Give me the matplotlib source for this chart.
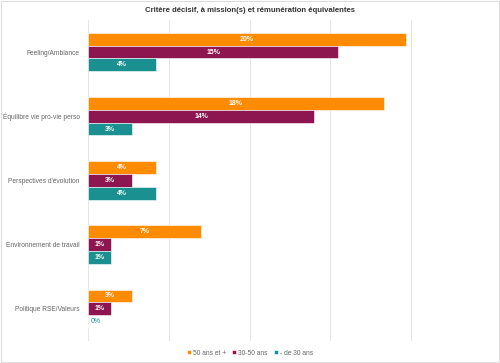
import matplotlib.pyplot as plt
import numpy as np
from matplotlib.patches import Rectangle

plt.rcParams['font.family'] = ['Liberation Sans', 'DejaVu Sans']

categories = ["Feeling/Ambiance", "Équilibre vie pro-vie perso", "Perspectives d'évolution",
              "Environnement de travail", "Politique RSE/Valeurs"]
series_names = ["50 ans et +", "30-50 ans", "- de 30 ans"]
v_50plus = [19.7, 18.3, 4.2, 7.0, 2.7]
v_30_50 = [15.5, 14.0, 2.7, 1.4, 1.4]
v_moins30 = [4.2, 2.7, 4.2, 1.4, 0.0]
labels_50plus = ["20%", "18%", "4%", "7%", "3%"]
labels_30_50 = ["15%", "14%", "3%", "1%", "1%"]
labels_moins30 = ["4%", "3%", "4%", "1%", "0%"]
colors = ["#FF8C00", "#8E1650", "#1A9090"]

fig = plt.figure(figsize=(5.0, 3.63), dpi=100)
fig.patches.append(Rectangle((0.002, 0.002), 0.996, 0.996, transform=fig.transFigure,
                             fill=False, edgecolor="#dddddd", linewidth=0.8))
ax = fig.add_axes([0.176, 0.061, 0.808, 0.884])

y = np.arange(len(categories))
h = 0.2
series = [v_50plus, v_30_50, v_moins30]
labs = [labels_50plus, labels_30_50, labels_moins30]
for i, (vals, lab, col) in enumerate(zip(series, labs, colors)):
    pos = y + (i - 1) * h
    ax.barh(pos, vals, height=h, color=col, edgecolor="white", linewidth=0.4,
            label=series_names[i], zorder=3)
    for p, v, t in zip(pos, vals, lab):
        if v > 0.5:
            ax.text(v / 2, p, t, ha="center", va="center", color="white",
                    fontsize=5, fontweight="bold", zorder=4)
        else:
            ax.text(0.15, p, t, ha="left", va="center", color=col,
                    fontsize=5, zorder=4)

ax.set_xlim(0, 25)
ax.set_ylim(len(categories) - 0.5, -0.5)
ax.set_xticks([0, 5, 10, 15, 20, 25])
ax.xaxis.grid(True, color="#e6e6e6", linewidth=0.7, zorder=0)
ax.tick_params(axis="x", length=0, labelbottom=False)
ax.set_yticks(y)
ax.set_yticklabels(categories, fontsize=4.8, color="#666666")
ax.tick_params(axis="y", length=0, pad=6)
for s in ax.spines.values():
    s.set_visible(False)

fig.text(0.5, 0.972, "Critère décisif, à mission(s) et rémunération équivalentes",
         ha="center", va="center", fontsize=5.6, fontweight="bold", color="#333333")

fig.legend(loc="center", bbox_to_anchor=(0.5, 0.027), ncol=3, frameon=False,
           fontsize=4.8, handlelength=0.55, handleheight=0.55, handletextpad=0.3,
           columnspacing=1.0, labelcolor="#666666")

fig.savefig("out.png", dpi=100)
